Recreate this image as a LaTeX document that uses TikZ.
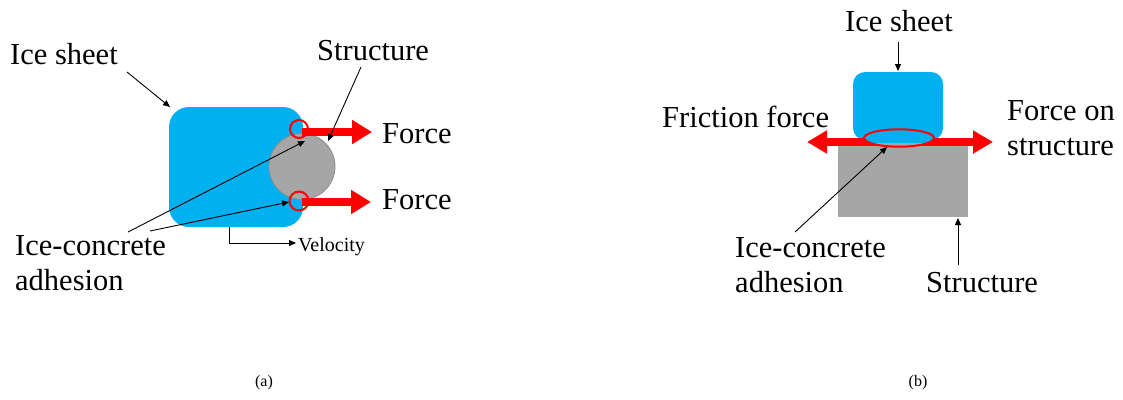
\documentclass[tikz,border=0pt]{standalone}
\usepackage{fontspec}
\setmainfont{Liberation Serif}
\usetikzlibrary{arrows.meta,shapes.geometric}
\definecolor{iceblue}{HTML}{00B0F0}
\definecolor{concrete}{HTML}{A6A6A6}
\definecolor{concreteedge}{HTML}{8C8C8C}
\definecolor{forcered}{HTML}{FF0000}
\tikzset{
  biglabel/.style={inner sep=0pt, anchor=base west, align=left, font=\fontsize{30.5}{35}\selectfont},
  smalllabel/.style={inner sep=0pt, anchor=base west, font=\fontsize{20}{24}\selectfont},
  caption/.style={inner sep=0pt, font=\fontsize{16}{19}\selectfont},
  pointer/.style={draw=black, line width=0.9pt, -{Triangle[length=7pt,width=6pt]}},
  forcearrow/.style={draw=forcered, line width=8.5pt, -{Triangle[length=20pt,width=23pt]}},
  forcedouble/.style={draw=forcered, line width=8pt, {Triangle[length=20pt,width=22pt]}-{Triangle[length=20pt,width=22pt]}},
  adhring/.style={draw=forcered, line width=2pt, inner sep=0pt},
  iceshape/.style={fill=iceblue, draw=none, rectangle, inner sep=0pt},
}
\begin{document}
\begin{tikzpicture}[x=1pt, y=-1pt]
\useasboundingbox (0,0) rectangle (1123,399);

% ---------------- panel (a) ----------------
\node[iceshape, rounded corners=20pt, minimum width=134pt, minimum height=120pt] (iceA) at (236,167) {};
\node[circle, fill=concrete, draw=concreteedge, line width=0.8pt, minimum size=66pt, inner sep=0pt] (strA) at (302,166.5) {};
\coordinate (fa1s) at (302,132);
\coordinate (fa1e) at (372,132);
\coordinate (fa2s) at (302,202);
\coordinate (fa2e) at (371,202);
\draw[forcearrow] (fa1s) -- (fa1e);
\draw[forcearrow] (fa2s) -- (fa2e);
\node[adhring, circle, minimum size=18pt] (adhA1) at (299,129) {};
\node[adhring, circle, minimum size=19pt] (adhA2) at (299,201) {};

\node[biglabel] (lblIceA) at (10,64) {Ice sheet};
\node[biglabel] (lblStrA) at (317,60) {Structure};
\node[biglabel] (lblF1) at (382,143) {Force};
\node[biglabel] (lblF2) at (382,209) {Force};
\node[biglabel] (lblAdhA) at (15,290) {Ice-concrete\\adhesion};
\node[smalllabel] (lblVel) at (298,251) {Velocity};
\node[caption] (capA) at (264,383) {(a)};

\coordinate (ia1) at (127,72);
\coordinate (ia2) at (170,107);
\draw[pointer] (ia1) -- (ia2);
\coordinate (sa1) at (361,67);
\coordinate (sa2) at (328,141);
\draw[pointer] (sa1) -- (sa2);
\coordinate (aa1) at (128,232);
\coordinate (aa2) at (305,141);
\draw[pointer] (aa1) -- (aa2);
\coordinate (ab1) at (150,231);
\coordinate (ab2) at (289,202);
\draw[pointer] (ab1) -- (ab2);
\coordinate (va1) at (229,227);
\coordinate (va2) at (296,243);
\draw[pointer] (va1) |- (va2);

% ---------------- panel (b) ----------------
\node[iceshape, rounded corners=12pt, minimum width=90pt, minimum height=68pt] (iceB) at (898,106) {};
\node[rectangle, fill=concrete, draw=none, minimum width=130pt, minimum height=73pt, inner sep=0pt] (strB) at (903,180.5) {};
\coordinate (fbL) at (807,142);
\coordinate (fbR) at (993,142);
\draw[forcedouble] (fbL) -- (fbR);
\begin{scope}
  \clip (899,138) ellipse [x radius=35pt, y radius=8.7pt];
  \fill[iceblue] (860,125) rectangle (940,143);
  \fill[concrete] (860,143) rectangle (940,150);
\end{scope}
\node[adhring, ellipse, minimum width=70pt, minimum height=17.4pt] (adhB) at (899,138) {};

\node[biglabel] (lblIceB) at (845,31) {Ice sheet};
\node[biglabel] (lblFric) at (662,127) {Friction force};
\node[biglabel] (lblFon) at (1007,155) {Force on\\structure};
\node[biglabel] (lblAdhB) at (735,292) {Ice-concrete\\adhesion};
\node[biglabel] (lblStrB) at (926,292) {Structure};
\node[caption] (capB) at (918,383) {(b)};

\coordinate (ib1) at (898,42);
\coordinate (ib2) at (898,71);
\draw[pointer] (ib1) -- (ib2);
\coordinate (sb1) at (958,265);
\coordinate (sb2) at (958,218);
\draw[pointer] (sb1) -- (sb2);
\coordinate (ab3) at (795,232);
\coordinate (ab4) at (887,147);
\draw[pointer] (ab3) -- (ab4);
\end{tikzpicture}
\end{document}
